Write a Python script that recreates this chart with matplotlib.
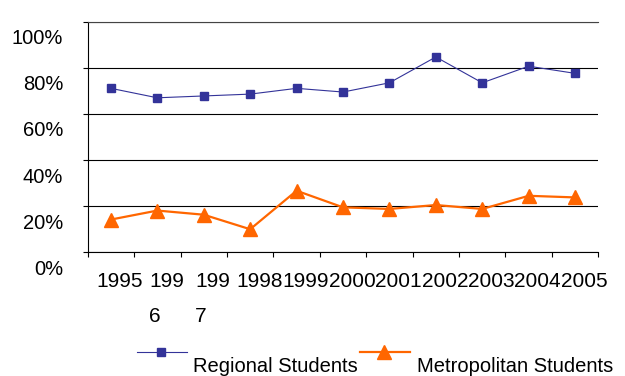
import matplotlib.pyplot as plt
import matplotlib.transforms as mtransforms
from matplotlib.lines import Line2D

plt.rcParams['font.family'] = ['Liberation Sans', 'DejaVu Sans']

years = ['1995', '199\n6', '199\n7', '1998', '1999', '2000', '2001',
         '2002', '2003', '2004', '2005']
regional = [71.1, 67.0, 67.8, 68.6, 71.1, 69.5, 73.5, 84.7, 73.5, 80.7, 77.6]
metro = [14.2, 18.1, 16.3, 10.0, 26.7, 19.5, 18.8, 20.5, 18.8, 24.5, 23.8]
pct_ticks = [0, 20, 40, 60, 80, 100]

fig = plt.figure(figsize=(6.25, 3.76), dpi=100)
ax = fig.add_axes([87.7 / 625, 1 - 252.3 / 376, (598.3 - 87.7) / 625, (252.3 - 21.7) / 376])

x = list(range(len(years)))
ax.plot(x, regional, color='#333399', lw=0.8, marker='s', ms=5.5,
        mec='#333399', mfc='#333399', clip_on=False, zorder=3)
ax.plot(x, metro, color='#FF6600', lw=1.6, marker='^', ms=9.5,
        mec='#FF6600', mfc='#FF6600', clip_on=False, zorder=3)

ax.set_xlim(-0.5, len(years) - 0.5)
ax.set_ylim(0, 100)

# grid lines and outward ticks
ax.set_yticks(pct_ticks)
ax.set_yticklabels([f'{p}%' for p in pct_ticks])
ax.yaxis.grid(True, color='black', lw=0.8)
ax.set_axisbelow(True)
ax.tick_params(axis='y', length=5 * 0.72, width=0.8, pad=14, labelsize=14.5)
shift_y = mtransforms.ScaledTranslation(0, -15 / 100, fig.dpi_scale_trans)
for lab in ax.get_yticklabels():
    lab.set_transform(lab.get_transform() + shift_y)

# category boundaries carry the ticks, centers carry the labels
ax.set_xticks([i - 0.5 for i in range(len(years) + 1)])
ax.set_xticklabels([])
ax.set_xticks(x, minor=True)
ax.set_xticklabels(years, minor=True, fontsize=15, linespacing=2.1,
                   multialignment='left')
ax.tick_params(axis='x', which='major', length=5 * 0.72, width=0.8)
ax.tick_params(axis='x', which='minor', length=0, pad=14)
shift_x = mtransforms.ScaledTranslation(9 / 100, 0, fig.dpi_scale_trans)
for lab in ax.get_xticklabels(minor=True):
    lab.set_transform(lab.get_transform() + shift_x)

ax.spines['right'].set_visible(False)
for side in ['left', 'bottom', 'top']:
    ax.spines[side].set_linewidth(0.8)
ax.spines['top'].set_color('#444444')

# legend row below the plot
W, H = 625, 376
def fx(px):
    return px / W
def fy(py):
    return 1 - py / H

fig.add_artist(Line2D([fx(137), fx(187)], [fy(352.3)] * 2, color='#333399',
                      lw=0.8, transform=fig.transFigure))
fig.add_artist(Line2D([fx(161)], [fy(352.3)], color='#333399', marker='s',
                      ms=5.5, transform=fig.transFigure))
fig.add_artist(Line2D([fx(360), fx(410)], [fy(352.3)] * 2, color='#FF6600',
                      lw=1.6, transform=fig.transFigure))
fig.add_artist(Line2D([fx(384)], [fy(352.3)], color='#FF6600', marker='^',
                      ms=9.5, transform=fig.transFigure))
fig.text(fx(193), fy(371.5), 'Regional Students', fontsize=14.5, va='baseline')
fig.text(fx(417), fy(371.5), 'Metropolitan Students', fontsize=14.5, va='baseline')

fig.savefig('out.png', dpi=100)
